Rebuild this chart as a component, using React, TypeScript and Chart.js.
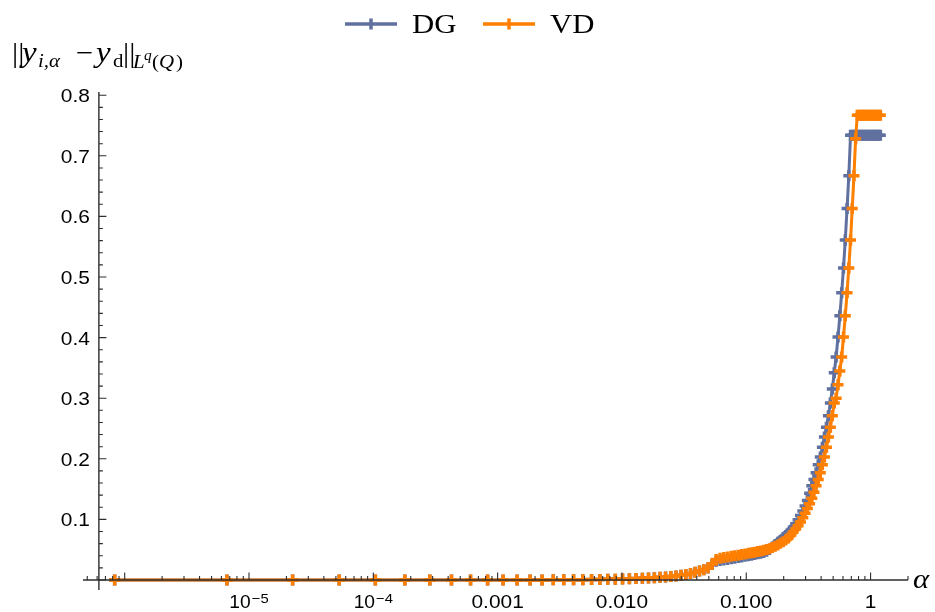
import { useEffect, useRef } from "react";
import { Chart, registerables } from "chart.js";

Chart.register(...registerables);

// Regularisation parameters alpha (shared by both discretisations)
const ALPHA = [
  8.306e-7, 6.645e-6, 2.243e-5, 5.316e-5, 1.038e-4, 1.794e-4, 2.849e-4, 4.253e-4, 6.055e-4, 8.306e-4,
  1.106e-3, 1.435e-3, 1.825e-3, 2.279e-3, 2.803e-3, 3.402e-3, 4.081e-3, 4.844e-3, 5.697e-3, 6.645e-3,
  7.692e-3, 8.844e-3, 0.01011, 0.01148, 0.01298, 0.0146, 0.01635, 0.01823, 0.02026, 0.02243,
  0.02474, 0.02722, 0.02985, 0.03265, 0.03561, 0.03875, 0.04207, 0.04558, 0.04927, 0.05316,
  0.05725, 0.06154, 0.06604, 0.07075, 0.07569, 0.08085, 0.08624, 0.09186, 0.09772, 0.1038,
  0.1102, 0.1168, 0.1237, 0.1308, 0.1382, 0.1459, 0.1538, 0.1621, 0.1706, 0.1794,
  0.1885, 0.198, 0.2077, 0.2177, 0.2281, 0.2388, 0.2498, 0.2612, 0.2729, 0.2849,
  0.2973, 0.31, 0.3231, 0.3366, 0.3504, 0.3646, 0.3792, 0.3942, 0.4095, 0.4253,
  0.4414, 0.458, 0.4749, 0.4923, 0.5101, 0.5283, 0.547, 0.566, 0.5855, 0.6055,
  0.6259, 0.6468, 0.6681, 0.6899, 0.7121, 0.7349, 0.7581, 0.7818, 0.8059, 0.8306,
  0.8558, 0.8814, 0.9076, 0.9343, 0.9615, 0.9893, 1.0175, 1.0463, 1.0757, 1.1055,
  1.136, 1.1669, 1.1985,
];

// ||y_{i,alpha} - y_d|| for the DG discretisation
const ERR_DG = [
  0, 0, 0, 0, 0, 0, 0, 0, 0, 0,
  0.0001, 0.0001, 0.0002, 0.0002, 0.0003, 0.0004, 0.0005, 0.0006, 0.0008, 0.001,
  0.0012, 0.0014, 0.0017, 0.002, 0.0024, 0.0028, 0.0033, 0.0038, 0.0044, 0.005,
  0.0058, 0.0067, 0.0078, 0.0092, 0.0108, 0.0127, 0.0148, 0.017, 0.0198, 0.0255,
  0.031, 0.032, 0.033, 0.034, 0.035, 0.036, 0.037, 0.038, 0.039, 0.04,
  0.041, 0.042, 0.0432, 0.0443, 0.0455, 0.0475, 0.0505, 0.0545, 0.0585, 0.0622,
  0.0655, 0.07, 0.0735, 0.0775, 0.082, 0.087, 0.093, 0.0995, 0.1065, 0.114,
  0.122, 0.131, 0.143, 0.1556, 0.166, 0.177, 0.19, 0.203, 0.219, 0.236,
  0.252, 0.271, 0.292, 0.315, 0.342, 0.368, 0.401, 0.436, 0.474, 0.515,
  0.561, 0.613, 0.667, 0.734, 0.734, 0.734, 0.734, 0.734, 0.734, 0.734,
  0.734, 0.734, 0.734, 0.734, 0.734, 0.734, 0.734, 0.734, 0.734, 0.734,
  0.734, 0.734, 0.734,
];

// ||y_{i,alpha} - y_d|| for the VD discretisation
const ERR_VD = [
  0, 0, 0, 0, 0, 0, 0, 0, 0, 0,
  0.0001, 0.0001, 0.0002, 0.0002, 0.0003, 0.0004, 0.0005, 0.0006, 0.0008, 0.001,
  0.0012, 0.0014, 0.0017, 0.002, 0.0024, 0.0028, 0.0033, 0.0038, 0.0044, 0.005,
  0.0058, 0.0067, 0.0078, 0.0092, 0.0108, 0.0127, 0.0148, 0.017, 0.0198, 0.0262,
  0.0338, 0.0358, 0.037, 0.038, 0.039, 0.04, 0.041, 0.042, 0.043, 0.044,
  0.045, 0.046, 0.047, 0.048, 0.049, 0.0502, 0.0517, 0.0535, 0.0555, 0.0578,
  0.0605, 0.063, 0.066, 0.0695, 0.0738, 0.0792, 0.084, 0.0895, 0.0958, 0.1028,
  0.11, 0.1178, 0.126, 0.135, 0.145, 0.1556, 0.166, 0.177, 0.19, 0.203,
  0.219, 0.236, 0.252, 0.271, 0.292, 0.3, 0.322, 0.345, 0.368, 0.401,
  0.436, 0.474, 0.515, 0.561, 0.613, 0.667, 0.728, 0.767, 0.767, 0.767,
  0.767, 0.767, 0.767, 0.767, 0.767, 0.767, 0.767, 0.767, 0.767, 0.767,
  0.767, 0.767, 0.767,
];

const SERIES_NAMES = ["DG", "VD"];
const SERIES_COLORS = ["#61719f", "#ff7f00"];

const X_MAJOR_TICKS = [1e-6, 1e-5, 1e-4, 1e-3, 1e-2, 1e-1, 1];
const X_TICK_LABELS = ["", "10^\u22125", "10^\u22124", "0.001", "0.010", "0.100", "1"];
const Y_MAJOR_TICKS = [0, 0.1, 0.2, 0.3, 0.4, 0.5, 0.6, 0.7, 0.8];
const Y_TICK_LABELS = ["", "0.1", "0.2", "0.3", "0.4", "0.5", "0.6", "0.7", "0.8"];

const X_MIN = 4.62e-7;
const X_MAX = 2.0;
const Y_MIN = -0.0165;
const Y_MAX = 0.8053;
const Y_AXIS_AT = 6.2e-7; // where the vertical axis crosses the horizontal one

const AXIS_COLOR = "#2e2e2e";
const SANS = "'Liberation Sans', Arial, sans-serif";
const SERIF = "'Liberation Serif', 'Times New Roman', serif";
const TEXT_WIDEN = 1.1; // glyphs are set slightly wide

type Seg = { t: string; x: number; base: number; font: string };

// y-axis caption ||y_{i,α} − y_d||_{L^q(Q)}
const Y_CAPTION: Seg[] = [
  { t: "||", x: 12, base: 62, font: `28px ${SERIF}` },
  { t: "y", x: 22, base: 62, font: `italic 30px ${SERIF}` },
  { t: "i,\u03b1", x: 38, base: 67, font: `italic 19px ${SERIF}` },
  { t: "\u2212", x: 76, base: 62, font: `28px ${SERIF}` },
  { t: "y", x: 96, base: 62, font: `italic 30px ${SERIF}` },
  { t: "d", x: 113, base: 67, font: `19px ${SERIF}` },
  { t: "||", x: 123, base: 62, font: `28px ${SERIF}` },
  { t: "L", x: 133, base: 68, font: `italic 19px ${SERIF}` },
  { t: "q", x: 144, base: 60, font: `italic 14px ${SERIF}` },
  { t: "(", x: 152, base: 68, font: `19px ${SERIF}` },
  { t: "Q", x: 159, base: 68, font: `italic 19px ${SERIF}` },
  { t: ")", x: 176, base: 68, font: `19px ${SERIF}` },
];

function wideText(
  ctx: CanvasRenderingContext2D,
  s: string,
  x: number,
  y: number,
  align: CanvasTextAlign = "left"
) {
  ctx.save();
  ctx.translate(x, y);
  ctx.scale(TEXT_WIDEN, 1);
  ctx.textAlign = align;
  ctx.textBaseline = "alphabetic";
  ctx.fillText(s, 0, 0);
  ctx.restore();
}

function drawTickLabel(ctx: CanvasRenderingContext2D, label: string, cx: number, base: number) {
  if (!label) return;
  ctx.fillStyle = "#000";
  if (label.includes("^")) {
    const [b, e] = label.split("^");
    const bf = `17.5px ${SANS}`;
    const ef = `13.5px ${SANS}`;
    ctx.font = bf;
    const bw = ctx.measureText(b).width * TEXT_WIDEN;
    ctx.font = ef;
    const ew = ctx.measureText(e).width * TEXT_WIDEN;
    const x0 = cx - (bw + ew + 1) / 2;
    ctx.font = bf;
    wideText(ctx, b, x0, base);
    ctx.font = ef;
    wideText(ctx, e, x0 + bw + 1, base - 5);
  } else {
    ctx.font = `19px ${SANS}`;
    wideText(ctx, label, cx, base, "center");
  }
}

const mathAxes = {
  id: "mathAxes",
  afterDatasetsDraw(chart: any) {
    const { ctx } = chart;
    const xs = chart.scales.x;
    const ys = chart.scales.y;
    const x0 = xs.getPixelForValue(Y_AXIS_AT);
    const y0 = ys.getPixelForValue(0);
    ctx.save();
    ctx.strokeStyle = AXIS_COLOR;
    ctx.lineWidth = 1.4;
    ctx.beginPath();
    ctx.moveTo(xs.left, y0);
    ctx.lineTo(xs.right, y0);
    ctx.moveTo(x0, ys.bottom);
    ctx.lineTo(x0, ys.top);
    ctx.stroke();

    // horizontal axis ticks (logarithmic)
    ctx.lineWidth = 1.1;
    ctx.beginPath();
    for (let e = -7; e <= 0; e++) {
      for (let m = 2; m <= 9; m++) {
        const v = m * Math.pow(10, e);
        if (v < X_MIN || v > X_MAX) continue;
        const px = xs.getPixelForValue(v);
        ctx.moveTo(px, y0);
        ctx.lineTo(px, y0 - 4);
      }
    }
    X_MAJOR_TICKS.forEach((v) => {
      const px = xs.getPixelForValue(v);
      ctx.moveTo(px, y0);
      ctx.lineTo(px, y0 - 7.5);
    });
    // vertical axis ticks
    for (let i = 1; i <= 40; i++) {
      const v = i * 0.02;
      if (i % 5 === 0) continue;
      const py = ys.getPixelForValue(v);
      ctx.moveTo(x0, py);
      ctx.lineTo(x0 + 4, py);
    }
    Y_MAJOR_TICKS.forEach((v) => {
      const py = ys.getPixelForValue(v);
      ctx.moveTo(x0, py);
      ctx.lineTo(x0 + 7.5, py);
    });
    ctx.stroke();

    X_MAJOR_TICKS.forEach((v, i) => {
      drawTickLabel(ctx, X_TICK_LABELS[i], xs.getPixelForValue(v), y0 + 28);
    });
    ctx.font = `19px ${SANS}`;
    ctx.fillStyle = "#000";
    Y_MAJOR_TICKS.forEach((v, i) => {
      if (!Y_TICK_LABELS[i]) return;
      wideText(ctx, Y_TICK_LABELS[i], x0 - 9, ys.getPixelForValue(v) + 7, "right");
    });

    // axis captions
    ctx.font = `italic 28px ${SERIF}`;
    wideText(ctx, "\u03b1", xs.right + 5, y0 + 8);
    Y_CAPTION.forEach((s) => {
      ctx.font = s.font;
      wideText(ctx, s.t, s.x, s.base);
    });

    // legend: line sample with a cross marker, then the series name
    const legendX = [345, 483];
    const legendY = 24;
    chart.data.datasets.forEach((ds: any, i: number) => {
      const lx = legendX[i];
      ctx.strokeStyle = ds.borderColor;
      ctx.lineWidth = 3.5;
      ctx.beginPath();
      ctx.moveTo(lx, legendY);
      ctx.lineTo(lx + 52, legendY);
      ctx.moveTo(lx + 26, legendY - 5.5);
      ctx.lineTo(lx + 26, legendY + 5.5);
      ctx.stroke();
      ctx.fillStyle = "#000";
      ctx.font = `28px ${SERIF}`;
      wideText(ctx, ds.label, lx + 67, legendY + 9);
    });
    ctx.restore();
  },
};

export default function App() {
  const canvasRef = useRef<HTMLCanvasElement | null>(null);

  useEffect(() => {
    const canvas = canvasRef.current;
    if (!canvas) return;
    const errs = [ERR_DG, ERR_VD];
    const chart = new Chart(canvas, {
      type: "line",
      data: {
        datasets: SERIES_NAMES.map((name, s) => ({
          label: name,
          data: ALPHA.map((a, i) => ({ x: a, y: errs[s][i] })),
          borderColor: SERIES_COLORS[s],
          backgroundColor: SERIES_COLORS[s],
          borderWidth: 3,
          pointStyle: "cross",
          pointRadius: 5.5,
          pointBorderWidth: 3.5,
          pointBorderColor: SERIES_COLORS[s],
          tension: 0,
          fill: false,
          order: s === 0 ? 1 : 0,
        })),
      },
      options: {
        animation: false,
        responsive: false,
        devicePixelRatio: 1,
        layout: { padding: { left: 83, right: 935 - 908, top: 92, bottom: 612 - 590 } },
        plugins: { legend: { display: false }, tooltip: { enabled: false } },
        scales: {
          x: { type: "logarithmic", min: X_MIN, max: X_MAX, display: false },
          y: { type: "linear", min: Y_MIN, max: Y_MAX, display: false },
        },
      },
      plugins: [mathAxes],
    } as any);
    return () => chart.destroy();
  }, []);

  return (
    <div style={{ position: "absolute", left: 0, top: 0, width: 935, height: 612, background: "#fff" }}>
      <canvas ref={canvasRef} width={935} height={612} style={{ width: 935, height: 612 }} />
    </div>
  );
}
